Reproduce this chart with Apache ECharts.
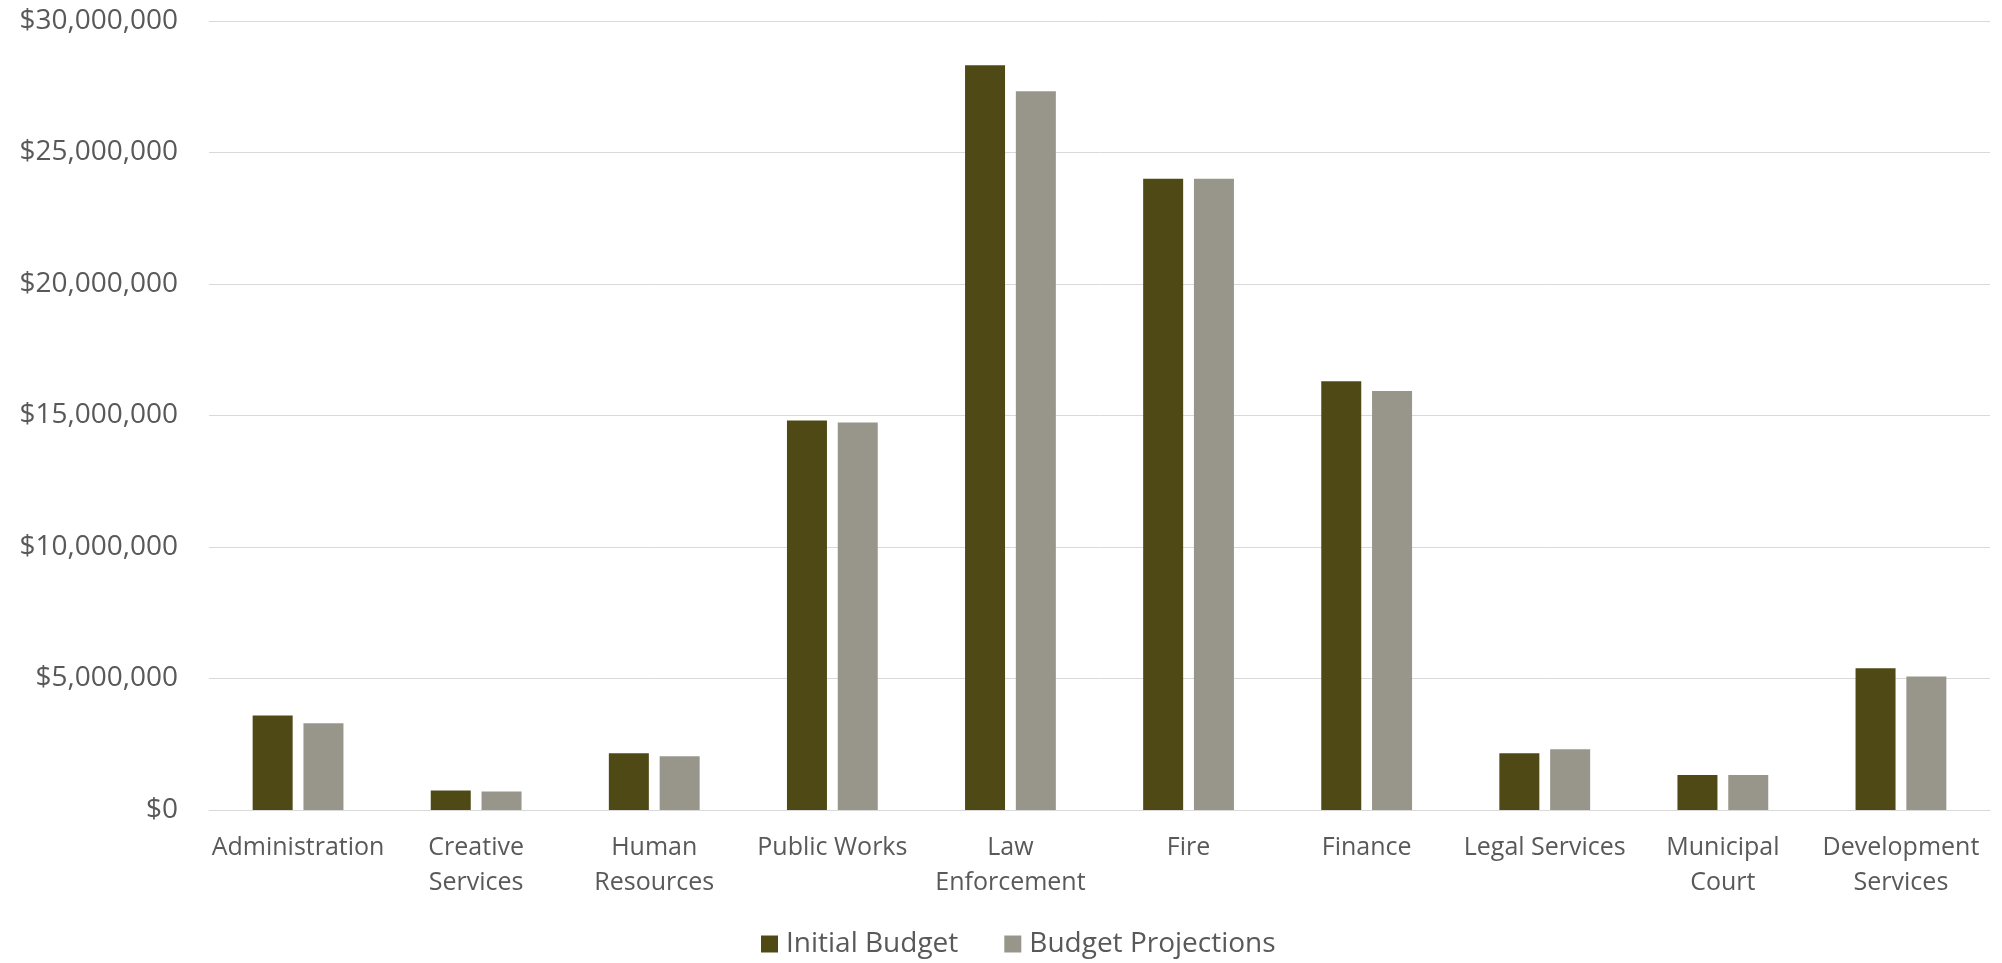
<!DOCTYPE html>
<html>
<head>
<meta charset="utf-8">
<title>Department Budgets</title>
<script src="https://cdn.jsdelivr.net/npm/echarts@6/dist/echarts.min.js"></script>
<style>
  html, body { margin: 0; padding: 0; background: #ffffff; }
  #chart { width: 2002px; height: 963px; }
</style>
</head>
<body>
<div id="chart"></div>
<script>
// Department names (line breaks where the axis label wraps)
const departments = [
  'Administration',
  'Creative\nServices',
  'Human\nResources',
  'Public Works',
  'Law\nEnforcement',
  'Fire',
  'Finance',
  'Legal Services',
  'Municipal\nCourt',
  'Development\nServices'
];

const initialBudget = [3590000, 740000, 2160000, 14810000, 28320000, 24000000, 16300000, 2160000, 1330000, 5390000];
const budgetProjections = [3300000, 700000, 2040000, 14730000, 27330000, 24000000, 15930000, 2310000, 1330000, 5080000];

const seriesNames = ['Initial Budget', 'Budget Projections'];

const FONT = '"Open Sans", "Noto Sans", sans-serif';
const TEXT = '#595959';
const GRID = '#d9d9d9';

const chart = echarts.init(document.getElementById('chart'), null, { renderer: 'canvas' });

function money(v) {
  return '$' + Math.round(v).toString().replace(/\B(?=(\d{3})+(?!\d))/g, ',');
}

chart.setOption({
  animation: false,
  backgroundColor: '#ffffff',
  color: ['#4f4a15', '#98968a'],
  grid: {
    left: 209,
    right: 12,
    top: 21,
    bottom: 153,
    outerBoundsMode: 'none'
  },
  legend: {
    data: seriesNames,
    left: 756,
    top: 925,
    icon: 'rect',
    itemWidth: 17,
    itemHeight: 17,
    itemGap: 46,
    textStyle: {
      fontFamily: FONT,
      fontSize: 28,
      lineHeight: 28,
      color: TEXT,
      padding: [0, 0, 0, 3]
    }
  },
  xAxis: {
    type: 'category',
    data: departments,
    axisLine: { show: true, lineStyle: { color: GRID, width: 1 } },
    axisTick: { show: false },
    axisLabel: {
      interval: 0,
      margin: 20,
      fontFamily: FONT,
      fontSize: 25,
      lineHeight: 35,
      color: TEXT,
      align: 'center'
    }
  },
  yAxis: {
    type: 'value',
    min: 0,
    max: 30000000,
    interval: 5000000,
    axisLine: { show: false },
    axisTick: { show: false },
    splitLine: { show: true, lineStyle: { color: GRID, width: 1 } },
    axisLabel: {
      margin: 31,
      fontFamily: FONT,
      fontSize: 28,
      color: TEXT,
      formatter: money
    }
  },
  series: [
    {
      name: seriesNames[0],
      type: 'bar',
      data: initialBudget,
      barWidth: 40,
      barGap: '27%'
    },
    {
      name: seriesNames[1],
      type: 'bar',
      data: budgetProjections,
      barWidth: 40,
      barGap: '27%'
    }
  ]
});
</script>
</body>
</html>
